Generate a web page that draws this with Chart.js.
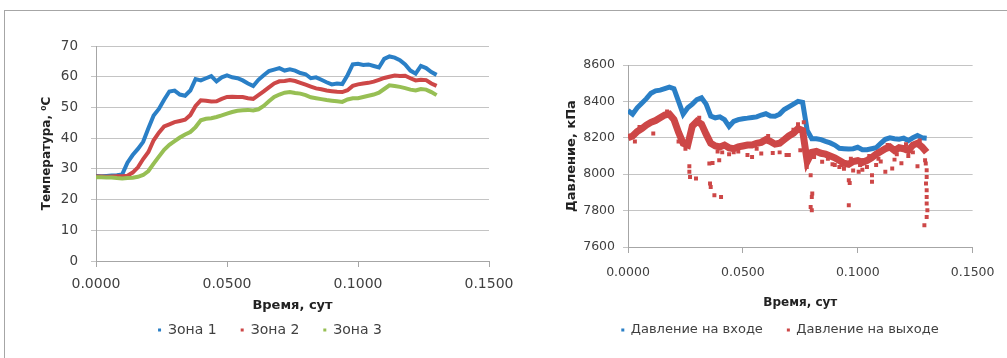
<!DOCTYPE html>
<html>
<head>
<meta charset="utf-8">
<script src="https://cdn.jsdelivr.net/npm/chart.js@4/dist/chart.umd.min.js"></script>
<style>
  html, body { margin: 0; padding: 0; background: #fff; }
  body { width: 1007px; height: 358px; position: relative; overflow: hidden; }
  #frame { position: absolute; left: 4px; top: 10px; width: 1010px; height: 360px;
           border-top: 1px solid #a6a6a6; border-left: 1px solid #a6a6a6; }
  .box { position: absolute; top: 0; height: 358px; }
  #tempBox { left: 0; width: 540px; }
  #presBox { left: 553px; width: 454px; }
</style>
</head>
<body>
<div id="frame"></div>
<div class="box" id="tempBox"><canvas id="tempChart"></canvas></div>
<div class="box" id="presBox"><canvas id="presChart"></canvas></div>
<script>
// Sampling times, days
const timeT = [0.000,0.002,0.004,0.006,0.008,0.010,0.012,0.014,0.016,0.018,
               0.020,0.022,0.024,0.026,0.028,0.030,0.032,0.034,0.036,0.038,
               0.040,0.042,0.044,0.046,0.048,0.050,0.052,0.054,0.056,0.058,
               0.060,0.062,0.064,0.066,0.068,0.070,0.072,0.074,0.076,0.078,
               0.080,0.082,0.084,0.086,0.088,0.090,0.092,0.094,0.096,0.098,
               0.100,0.102,0.104,0.106,0.108,0.110,0.112,0.114,0.116,0.118,
               0.120,0.122,0.124,0.126,0.128,0.130];

// Temperature by zone, °C
const zone1 = [27.7,27.6,27.7,27.8,27.9,28.2,32.0,34.5,36.5,38.8,
               43.2,47.4,49.5,52.5,55.2,55.5,54.2,53.8,55.5,59.2,
               58.8,59.5,60.2,58.5,59.8,60.4,59.8,59.5,58.8,57.8,
               57.0,59.0,60.5,61.8,62.3,62.8,62.0,62.4,62.0,61.2,
               60.8,59.5,59.8,59.0,58.2,57.5,57.8,57.6,60.5,64.0,
               64.2,63.8,64.0,63.5,63.0,65.8,66.6,66.2,65.4,64.0,
               62.0,61.0,63.5,62.8,61.5,60.6];
const zone2 = [27.5,27.5,27.4,27.5,27.6,27.6,27.8,28.8,30.5,33.2,
               35.5,39.3,41.8,43.8,44.5,45.2,45.6,46.0,47.5,50.5,
               52.3,52.2,51.9,52.0,52.8,53.4,53.5,53.4,53.4,53.0,
               52.8,54.0,55.2,56.5,57.8,58.5,58.6,58.9,58.6,58.0,
               57.4,56.8,56.2,55.9,55.5,55.3,55.1,55.0,55.6,57.0,
               57.5,57.8,58.0,58.4,59.0,59.6,60.0,60.4,60.2,60.3,
               59.5,58.8,59.0,58.9,57.8,57.0];
const zone3 = [27.3,27.3,27.2,27.2,27.0,26.9,27.0,27.1,27.4,28.0,
               29.3,31.7,34.0,36.2,37.8,39.0,40.2,41.2,42.0,43.6,
               45.8,46.3,46.5,46.9,47.4,48.0,48.5,48.9,49.1,49.2,
               49.0,49.4,50.5,52.0,53.4,54.2,54.8,55.0,54.7,54.5,
               54.0,53.3,53.0,52.7,52.4,52.2,52.0,51.8,52.6,53.0,
               53.0,53.4,53.8,54.2,54.8,56.0,57.2,57.0,56.7,56.3,
               55.8,55.5,56.0,55.8,55.0,54.0];

// Pressure, kPa
const inletP = [8350,8330,8365,8390,8415,8445,8458,8462,8470,8478,
                8470,8400,8330,8365,8385,8410,8420,8385,8320,8310,
                8315,8300,8262,8290,8300,8305,8308,8312,8315,8325,
                8332,8320,8318,8330,8355,8370,8385,8400,8395,8240,
                8195,8195,8190,8180,8172,8160,8142,8140,8138,8140,
                8148,8135,8135,8140,8145,8170,8192,8200,8195,8192,
                8198,8185,8200,8212,8200,8198];
const outletP = [8200,8210,8235,8250,8270,8285,8295,8310,8325,8330,
                 8300,8230,8170,8160,8265,8290,8275,8220,8170,8155,
                 8150,8160,8145,8140,8150,8155,8160,8160,8170,8175,
                 8190,8180,8165,8170,8190,8210,8225,8250,8240,8070,
                 8120,8125,8115,8110,8100,8090,8075,8060,8055,8070,
                 8075,8065,8075,8090,8110,8125,8140,8150,8130,8145,
                 8140,8130,8160,8170,8150,8120];
// Individual outlet readings scattered around the main trend
const outletSpotT = [0.003,0.011,0.022,0.025,0.0267,0.0267,0.027,0.0296,0.0354,0.0357,
                     0.036,0.0368,0.0376,0.0397,0.0405,0.044,0.046,0.052,0.054,0.058,
                     0.063,0.066,0.069,0.070,0.075,0.0778,0.0795,0.0795,0.080,0.0802,
                     0.080,0.0845,0.089,0.090,0.092,0.094,0.0961,0.0965,0.0961,0.098,
                     0.1004,0.102,0.104,0.1062,0.1062,0.108,0.110,0.112,0.115,0.116,
                     0.119,0.122,0.126,0.1293,0.1296,0.1300,0.1300,0.1297,0.1300,0.1300,
                     0.1300,0.1303,0.1300,0.1290,
                     0.005,0.013,0.017,0.031,0.039,0.041,0.048,0.056,0.061,0.072,
                     0.074,0.0765,0.081,0.087,0.093,0.097,0.101,0.105,0.109,0.113,
                     0.117,0.121,0.124,0.127];
const outletSpotP = [8180,8224,8180,8140,8044,8013,7985,7976,8059,7949,
                     7930,8062,7884,8077,7875,8110,8120,8105,8095,8114,
                     8117,8120,8105,8105,8132,8040,7994,7820,7875,7894,
                     7802,8068,8055,8050,8040,8030,7967,7952,7829,8020,
                     8013,8025,8040,7994,7958,8050,8070,8013,8031,8080,
                     8060,8100,8044,8077,8059,8022,7985,7949,7912,7875,
                     7839,7802,7765,7719,
                     8260,8300,8345,8310,8125,8120,8125,8140,8210,8245,
                     8275,8285,8095,8085,8050,8085,8050,8100,8085,8160,
                     8110,8165,8120,8185];

const xTicks = [0, 0.05, 0.10, 0.15];
const tempTicks = [0, 10, 20, 30, 40, 50, 60, 70];
const presTicks = [7600, 7800, 8000, 8200, 8400, 8600];

const BLUE = '#2a7fc6', RED = '#cd4747', GREEN = '#97bf54';
const FONT = 'DejaVu Sans';
const TXT = '#404040';
const GRID = '#c4c4c4';
const AXIS = '#a6a6a6';

const pts = (xs, ys) => xs.map((x, i) => ({ x: x, y: ys[i] }));

// Moves the legend sideways after layout so it is centred under the whole figure
const legendShift = {
  id: 'legendShift',
  afterLayout(chart, args, opts) {
    const lg = chart.legend;
    if (lg && opts.dx) { lg.left += opts.dx; lg.right += opts.dx; }
  }
};

function legendLabels(size, padding) {
  return {
    usePointStyle: true, boxWidth: 3, boxHeight: 3, padding: padding,
    color: TXT, font: { family: FONT, size: size },
    sort: (a, b) => a.datasetIndex - b.datasetIndex,
    generateLabels(chart) {
      const items = Chart.defaults.plugins.legend.labels.generateLabels(chart);
      return items.filter(it => chart.data.datasets[it.datasetIndex].label)
                  .map(it => Object.assign(it, { lineWidth: 0, strokeStyle: 'rgba(0,0,0,0)' }));
    }
  };
}

function xAxis(fontSize, tickPad, boxH, titleSize, titlePadBottom) {
  return {
    type: 'linear', min: 0, max: 0.15,
    afterFit: s => { s.height = boxH; },
    afterBuildTicks: s => { s.ticks = xTicks.map(v => ({ value: v })); },
    ticks: { color: TXT, font: { family: FONT, size: fontSize }, padding: tickPad,
             maxRotation: 0, autoSkip: false, callback: v => Number(v).toFixed(4) },
    grid: { drawOnChartArea: false, drawTicks: true, tickLength: 6, color: AXIS },
    border: { color: AXIS },
    title: { display: true, text: 'Время, сут', color: '#222',
             font: { family: FONT, size: titleSize, weight: 'bold' },
             padding: { top: 0, bottom: titlePadBottom } }
  };
}

function yAxis(min, max, ticks, fontSize, tickPad, boxW, title, titleSize, titlePadTop) {
  return {
    min: min, max: max,
    afterFit: s => { s.width = boxW; },
    afterBuildTicks: s => { s.ticks = ticks.map(v => ({ value: v })); },
    ticks: { color: TXT, font: { family: FONT, size: fontSize }, padding: tickPad,
             callback: v => String(v) },
    grid: { color: GRID, drawTicks: true, tickLength: 5 },
    border: { color: AXIS },
    title: { display: true, text: title, color: '#222',
             font: { family: FONT, size: titleSize, weight: 'bold' },
             padding: { top: titlePadTop, bottom: 0 } }
  };
}

// Temperature in the three zones
new Chart(document.getElementById('tempChart'), {
  type: 'scatter',
  plugins: [legendShift],
  data: {
    datasets: [
      { label: 'Зона 1', data: pts(timeT, zone1), showLine: true, borderColor: BLUE,
        backgroundColor: BLUE, borderWidth: 4, pointRadius: 0, pointStyle: 'rect', order: 3 },
      { label: 'Зона 2', data: pts(timeT, zone2), showLine: true, borderColor: RED,
        backgroundColor: RED, borderWidth: 4, pointRadius: 0, pointStyle: 'rect', order: 2 },
      { label: 'Зона 3', data: pts(timeT, zone3), showLine: true, borderColor: GREEN,
        backgroundColor: GREEN, borderWidth: 4, pointRadius: 0, pointStyle: 'rect', order: 1 }
    ]
  },
  options: {
    responsive: true, maintainAspectRatio: false, animation: false,
    layout: { padding: { left: 0, top: 46, right: 51, bottom: 11 } },
    plugins: {
      legend: { position: 'bottom', labels: legendLabels(14, 24) },
      legendShift: { dx: 25.5 },
      tooltip: { enabled: false }
    },
    scales: {
      x: xAxis(14, 8.6, 38, 13, -14.8),
      y: yAxis(0, 70, tempTicks, 13.5, 13, 96, 'Температура, ⁰С', 12, 39.8)
    }
  }
});

// Inlet and outlet pressure
new Chart(document.getElementById('presChart'), {
  type: 'scatter',
  plugins: [legendShift],
  data: {
    datasets: [
      { label: 'Давление на входе', data: pts(timeT, inletP), showLine: true, borderColor: BLUE,
        backgroundColor: BLUE, borderWidth: 5, pointRadius: 0, pointStyle: 'rect', order: 3 },
      { label: 'Давление на выходе', data: pts(timeT, outletP), showLine: true, borderColor: RED,
        backgroundColor: RED, borderWidth: 7, pointRadius: 0, pointStyle: 'rect', order: 2 },
      { label: '', data: pts(outletSpotT, outletSpotP), showLine: false, borderColor: RED,
        backgroundColor: RED, borderWidth: 0, pointRadius: 2.8, pointStyle: 'rect', order: 1 }
    ]
  },
  options: {
    responsive: true, maintainAspectRatio: false, animation: false,
    layout: { padding: { left: 0, top: 65, right: 33, bottom: 11.5 } },
    plugins: {
      legend: { position: 'bottom', labels: legendLabels(13, 24) },
      legendShift: { dx: 16.5 },
      tooltip: { enabled: false }
    },
    scales: {
      x: xAxis(12.5, 12.5, 52.5, 12, -10.7),
      y: yAxis(7600, 8600, presTicks, 12.5, 8, 75, 'Давление, кПа', 13, 11.2)
    }
  }
});
</script>
</body>
</html>
